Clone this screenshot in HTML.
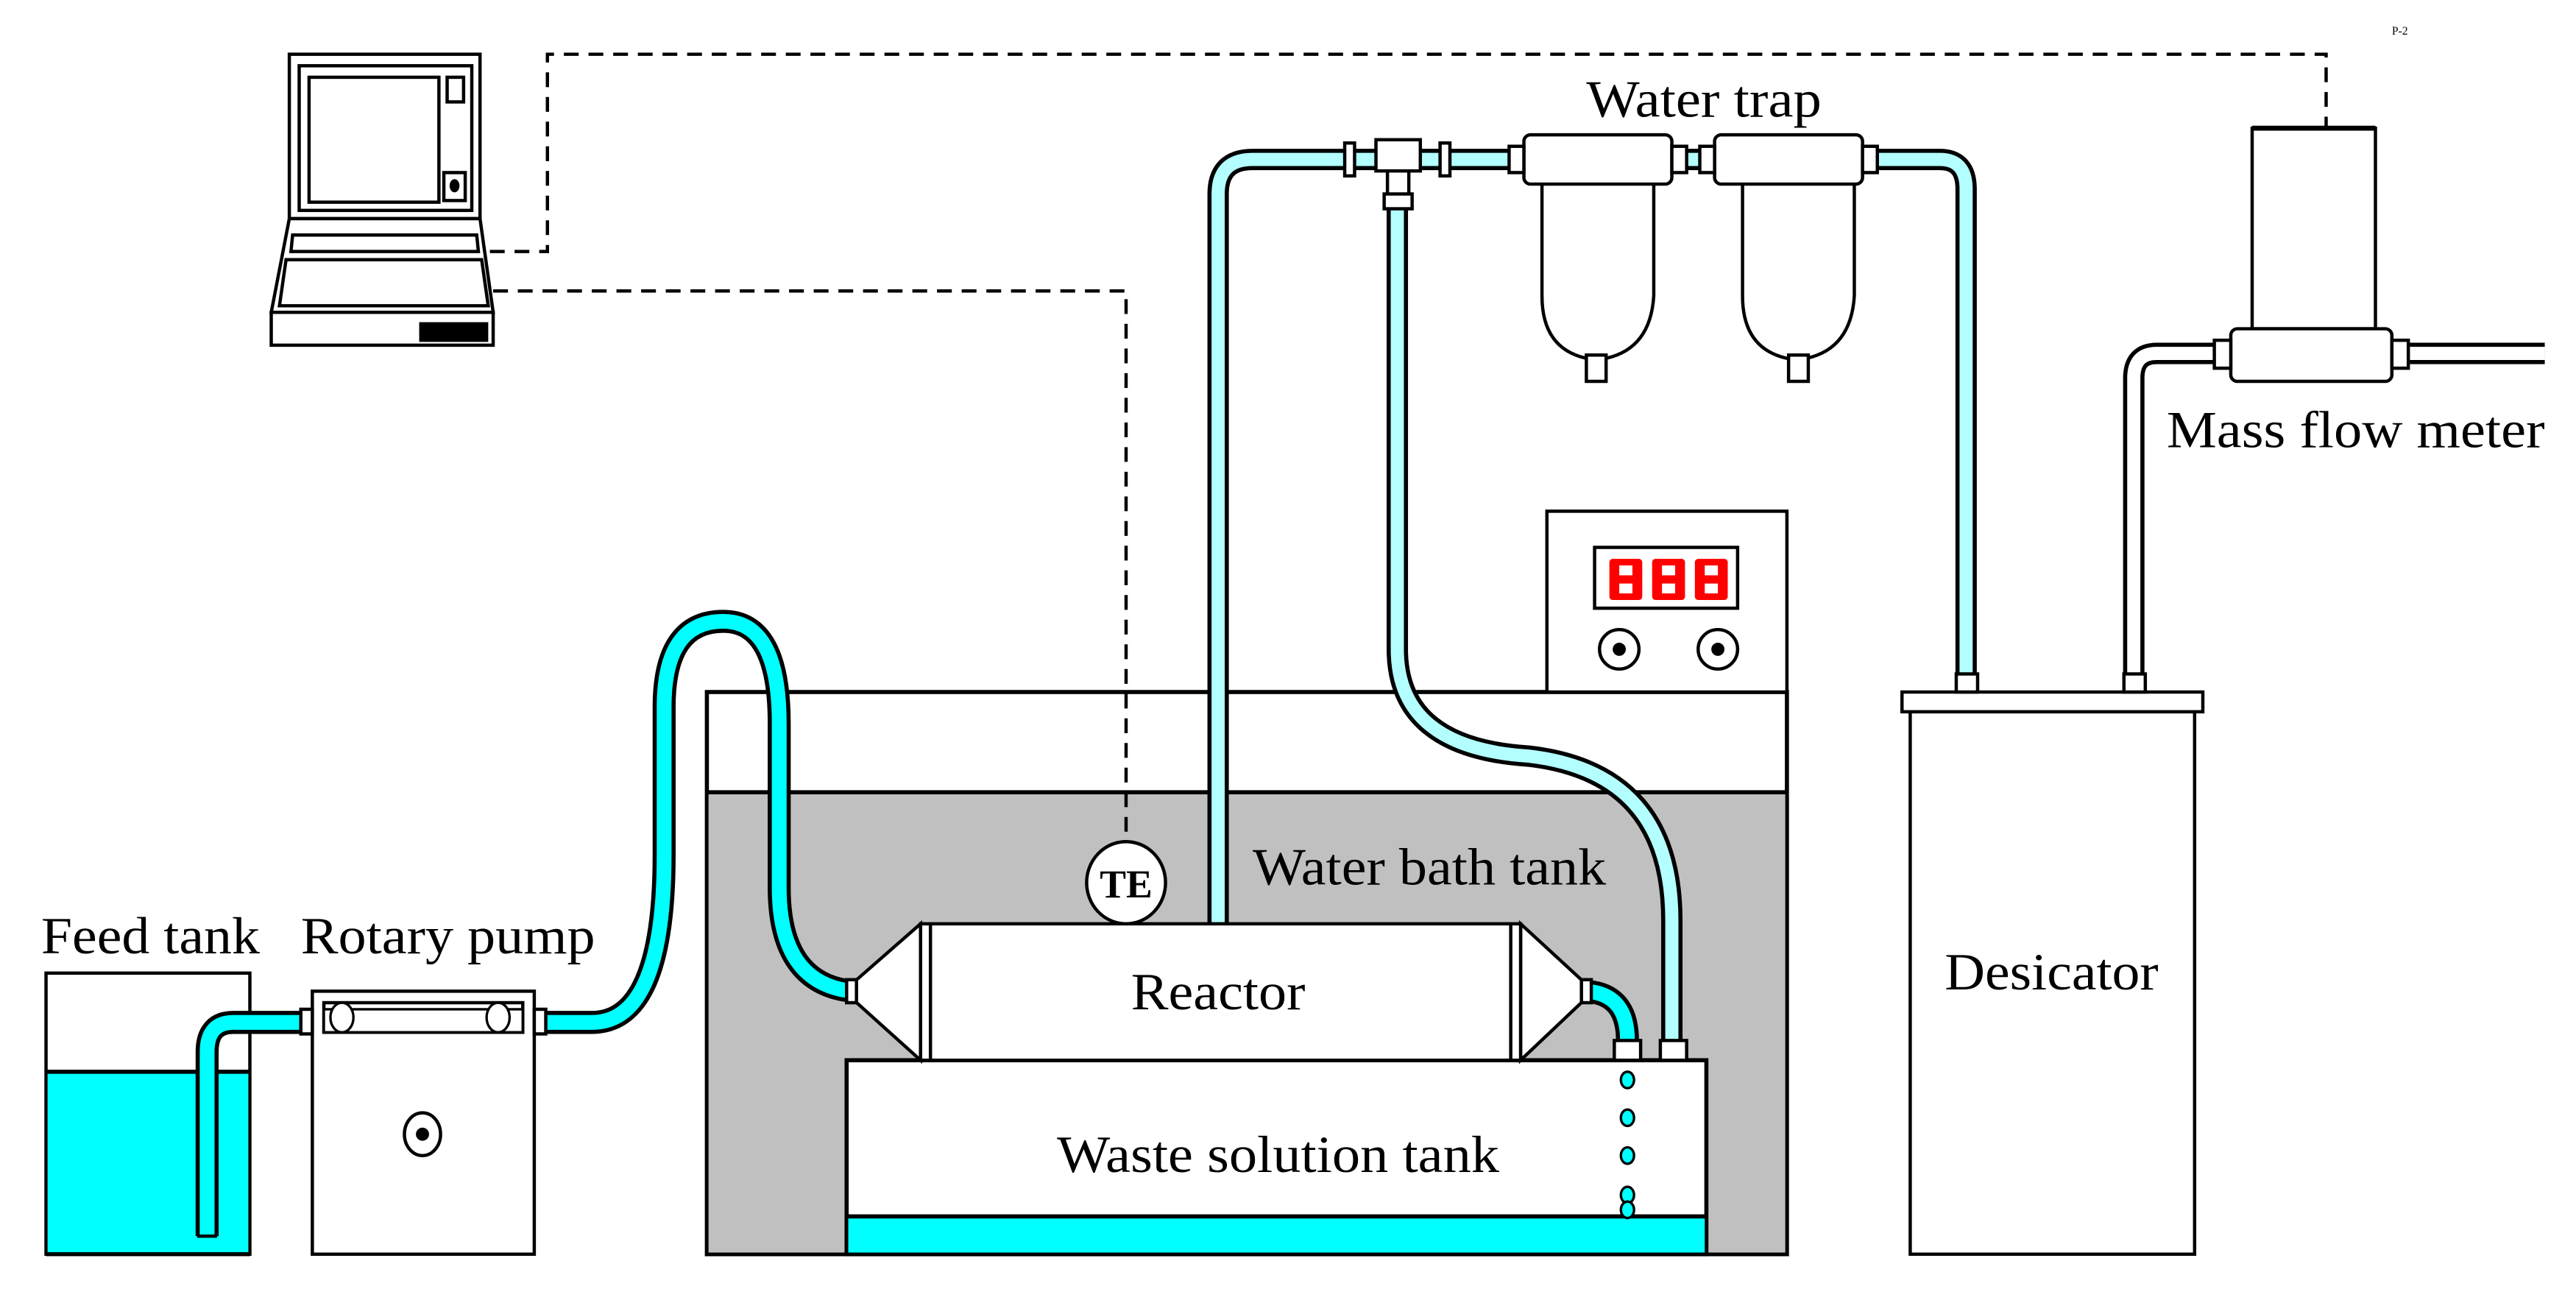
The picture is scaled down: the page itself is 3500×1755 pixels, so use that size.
<!DOCTYPE html>
<html><head><meta charset="utf-8"><style>
html,body{margin:0;padding:0;background:#fff;}
svg{display:block;}
text{font-family:"Liberation Serif",serif;fill:#000;}
</style></head><body>
<svg width="3500" height="1755" viewBox="0 0 1567 786" preserveAspectRatio="none" xmlns="http://www.w3.org/2000/svg">
<rect width="1567" height="786" fill="#fff"/>
<!-- laptop -->
<g fill="#fff" stroke="#000" stroke-width="2">
<rect x="176" y="33" width="116" height="100"/>
<rect x="182" y="40" width="105" height="88"/>
<rect x="188" y="47" width="79" height="76"/>
<rect x="272" y="47" width="10" height="15"/>
<rect x="270" y="105" width="13" height="17"/>
<path d="M176,133 L165,190 L300,190 L292,133 Z"/>
<path d="M178,143 L290,143 L291,153 L177,153 Z"/>
<path d="M174,158 L293,158 L297,186 L170,186 Z"/>
<rect x="165" y="190" width="135" height="20"/>
</g>
<rect x="255" y="196" width="42" height="12" fill="#000"/>
<ellipse cx="276.5" cy="113" rx="3" ry="4" fill="#000"/>
<text x="1455" y="21" font-size="7">P-2</text>

<!-- water bath tank -->
<rect x="430" y="421" width="657" height="342" fill="#fff" stroke="#000" stroke-width="2.5"/>
<rect x="431" y="482" width="655" height="280" fill="#c0c0c0"/>
<line x1="430" y1="482" x2="1087" y2="482" stroke="#000" stroke-width="2.5"/>
<!-- dashed signal lines -->
<g fill="none" stroke="#000" stroke-width="2" stroke-dasharray="9,6">
<path d="M298,153 H333 V33 H1415 V78"/>
<path d="M300,177 H685 V512"/>
</g>
<!-- controller -->
<rect x="941" y="311" width="146" height="110" fill="#fff" stroke="#000" stroke-width="2"/>
<rect x="970" y="333" width="87" height="37" fill="#fff" stroke="#000" stroke-width="2"/>
<g fill="#ff0000">
<rect x="979" y="340" width="20" height="25" rx="2"/><rect x="1005" y="340" width="20" height="25" rx="2"/><rect x="1031" y="340" width="20" height="25" rx="2"/>
</g>
<g fill="#fff"><rect x="985" y="344" width="8" height="6"/><rect x="985" y="355" width="8" height="6"/><rect x="1011" y="344" width="8" height="6"/><rect x="1011" y="355" width="8" height="6"/><rect x="1037" y="344" width="8" height="6"/><rect x="1037" y="355" width="8" height="6"/></g>
<circle cx="985" cy="395" r="12" fill="#fff" stroke="#000" stroke-width="2"/><circle cx="985" cy="395" r="4" fill="#000"/>
<circle cx="1045" cy="395" r="12" fill="#fff" stroke="#000" stroke-width="2"/><circle cx="1045" cy="395" r="4" fill="#000"/>

<!-- desicator -->
<rect x="1162" y="433" width="173" height="330" fill="#fff" stroke="#000" stroke-width="2"/>
<rect x="1157" y="421" width="183" height="12" fill="#fff" stroke="#000" stroke-width="2"/>

<!-- pipes (light cyan) -->
<g fill="none" stroke-linejoin="round">
<path id="p1" d="M741,563 V118 Q741,97 762,97 H927"/>
<path id="p2" d="M850,122 V395 Q850,455 930,460 Q1017,470 1017,560 V635"/>
<path id="p3" d="M1133,97 H1180 Q1196,97 1196,115 V412"/>
<path id="p4" d="M1347,215 H1312 Q1298,215 1298,230 V412"/>
<path id="p5" d="M1466,215 H1548"/>
</g>
<g fill="none" stroke="#000" stroke-width="13">
<use href="#p1"/><use href="#p2"/><use href="#p3"/>
</g>
<g fill="none" stroke="#b3ffff" stroke-width="8">
<use href="#p1"/><use href="#p2"/><use href="#p3"/>
</g>
<g fill="none" stroke="#000" stroke-width="13"><use href="#p4"/><use href="#p5"/></g>
<g fill="none" stroke="#fff" stroke-width="8"><use href="#p4"/><use href="#p5"/></g>
<line x1="1017" y1="97" x2="1045" y2="97" stroke="#000" stroke-width="13"/>
<line x1="1017" y1="97" x2="1045" y2="97" stroke="#b3ffff" stroke-width="8"/>

<!-- tee -->
<g fill="#fff" stroke="#000" stroke-width="2">
<rect x="818" y="87" width="6" height="20"/>
<rect x="876" y="87" width="6" height="20"/>
<rect x="837" y="85" width="27" height="19"/>
<rect x="844" y="104" width="13" height="16"/>
<rect x="842" y="118" width="17" height="9"/>
</g>
<!-- water traps -->
<g fill="#fff" stroke="#000" stroke-width="2">
<path d="M938,112 V180 Q938,212 965,218 H977 Q1004,212 1006,180 V112"/>
<path d="M1060,112 V180 Q1060,212 1087,218 H1099 Q1126,212 1128,180 V112"/>
<rect x="965" y="216" width="12" height="16"/>
<rect x="1088" y="216" width="12" height="16"/>
<rect x="927" y="82" width="90" height="30" rx="4"/>
<rect x="1043" y="82" width="90" height="30" rx="4"/>
<rect x="918" y="89" width="9" height="16"/>
<rect x="1017" y="89" width="9" height="16"/>
<rect x="1034" y="89" width="9" height="16"/>
<rect x="1133" y="89" width="9" height="16"/>
</g>
<!-- mass flow meter -->
<g fill="#fff" stroke="#000" stroke-width="2">
<rect x="1370" y="78" width="75" height="122"/>
<rect x="1357" y="200" width="98" height="32" rx="4"/>
<rect x="1347" y="207" width="10" height="17"/>
<rect x="1455" y="207" width="10" height="17"/>
</g>
<line x1="1370" y1="78" x2="1445" y2="78" stroke="#000" stroke-width="3"/>
<!-- desicator fittings -->
<g fill="#fff" stroke="#000" stroke-width="2">
<rect x="1190" y="410" width="13" height="11"/>
<rect x="1292" y="410" width="13" height="11"/>
</g>

<!-- feed tank -->
<rect x="28" y="592" width="124" height="171" fill="#fff" stroke="#000" stroke-width="2"/>
<rect x="29" y="652" width="122" height="110" fill="#00ffff"/>
<line x1="28" y1="652" x2="152" y2="652" stroke="#000" stroke-width="2.5"/>
<line x1="28" y1="763" x2="152" y2="763" stroke="#000" stroke-width="2.5"/>
<!-- pump -->
<rect x="190" y="603" width="135" height="160" fill="#fff" stroke="#000" stroke-width="2"/>
<rect x="197" y="610" width="121" height="18" fill="#fff" stroke="#000" stroke-width="2"/>
<rect x="197" y="614" width="121" height="14" fill="#fff" stroke="#000" stroke-width="1.5"/>
<ellipse cx="208" cy="619" rx="7" ry="9" fill="#fff" stroke="#000" stroke-width="1.5"/>
<ellipse cx="303" cy="619" rx="7" ry="9" fill="#fff" stroke="#000" stroke-width="1.5"/>
<ellipse cx="257" cy="690" rx="11" ry="13" fill="#fff" stroke="#000" stroke-width="2"/>
<circle cx="257" cy="690" r="4" fill="#000"/>

<!-- cyan pipes -->
<path id="c1" d="M126,752 V640 Q126,622 142,622 H185" fill="none"/>
<path id="c2" d="M330,622 H360 Q404,622 404,520 V430 Q404,378 440,378 Q474,378 474,440 V540 Q474,598 518,603" fill="none"/>
<path id="c3" d="M962,603 Q990,603 990,633" fill="none"/>
<g fill="none" stroke="#000" stroke-width="14"><use href="#c1"/><use href="#c2"/><use href="#c3"/></g>
<g fill="none" stroke="#00ffff" stroke-width="9"><use href="#c1"/><use href="#c2"/><use href="#c3"/></g>
<line x1="120" y1="752" x2="132" y2="752" stroke="#000" stroke-width="2"/>
<g fill="#fff" stroke="#000" stroke-width="2">
<rect x="183" y="614" width="7" height="15"/>
<rect x="325" y="614" width="7" height="15"/>
</g>

<!-- waste tank -->
<rect x="515" y="645" width="523" height="118" fill="#fff" stroke="#000" stroke-width="2.5"/>
<rect x="516" y="740" width="521" height="22" fill="#00ffff"/>
<line x1="515" y1="740" x2="1038" y2="740" stroke="#000" stroke-width="2.5"/>
<g fill="#00ffff" stroke="#000" stroke-width="1.5">
<ellipse cx="990" cy="657" rx="4" ry="5"/><ellipse cx="990" cy="680" rx="4" ry="5"/><ellipse cx="990" cy="703" rx="4" ry="5"/><ellipse cx="990" cy="727" rx="4" ry="5"/><ellipse cx="990" cy="736" rx="4" ry="5"/>
</g>
<g fill="#fff" stroke="#000" stroke-width="2">
<rect x="982" y="633" width="16" height="12"/>
<rect x="1010" y="633" width="16" height="12"/>
</g>
<!-- reactor -->
<g fill="#fff" stroke="#000" stroke-width="2">
<path d="M560,562 L520,597 L520,609 L560,645 Z"/>
<path d="M925,562 L963,597 L963,609 L925,645 Z"/>
<rect x="560" y="562" width="365" height="83"/>
<line x1="566" y1="562" x2="566" y2="645"/>
<line x1="919" y1="562" x2="919" y2="645"/>
<rect x="515" y="596" width="6" height="14"/>
<rect x="962" y="596" width="6" height="14"/>
</g>
<!-- TE -->
<ellipse cx="685" cy="537" rx="24" ry="25" fill="#fff" stroke="#000" stroke-width="2"/>
<text x="685" y="546" font-size="24" font-weight="bold" text-anchor="middle">TE</text>

<!-- labels -->
<text x="965" y="71" font-size="32" textLength="143" lengthAdjust="spacingAndGlyphs">Water trap</text>
<text x="1318" y="272" font-size="32" textLength="230" lengthAdjust="spacingAndGlyphs">Mass flow meter</text>
<text x="25" y="580" font-size="32" textLength="133" lengthAdjust="spacingAndGlyphs">Feed tank</text>
<text x="183" y="580" font-size="32" textLength="179" lengthAdjust="spacingAndGlyphs">Rotary pump</text>
<text x="762" y="538" font-size="32" textLength="215" lengthAdjust="spacingAndGlyphs">Water bath tank</text>
<text x="688" y="614" font-size="32" textLength="106" lengthAdjust="spacingAndGlyphs">Reactor</text>
<text x="643" y="713" font-size="32" textLength="269" lengthAdjust="spacingAndGlyphs">Waste solution tank</text>
<text x="1183" y="602" font-size="32" textLength="130" lengthAdjust="spacingAndGlyphs">Desicator</text>
</svg>
</body></html>
